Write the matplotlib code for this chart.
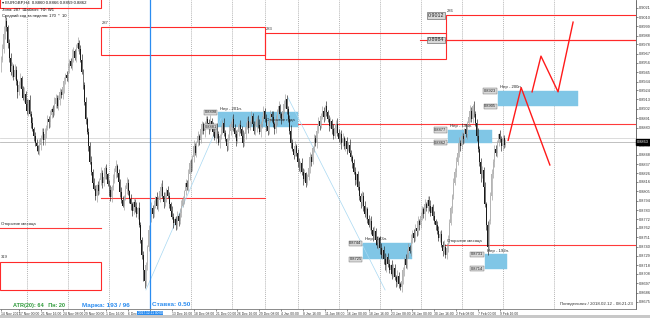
import datetime as dt
import numpy as np
import matplotlib
matplotlib.use("Agg")
import matplotlib.pyplot as plt
from matplotlib.patches import Rectangle
from matplotlib.transforms import blended_transform_factory

plt.rcParams['font.family'] = ['Liberation Sans', 'DejaVu Sans']

# ---------------- data (prices in pips above 0.8600) ----------------
BASE = 0.8600
open_first = 350
close_pips = [
    360, 372, 390, 405, 398, 380, 362, 345,
    352, 340, 348, 335, 322, 330, 338, 325, 315, 320, 308, 300, 312, 296,
    285, 278, 270, 262, 258, 252, 260, 268, 275, 265, 272, 280, 290, 286,
    295, 302, 298, 308, 315, 305, 312, 322, 318, 328, 335,
    342, 338, 350, 358, 352, 364, 370, 362, 374, 380, 372,
    360, 345, 330, 310, 290, 275, 258, 240, 228, 215, 208,
    200, 212, 205, 218, 226, 215, 222, 232, 225, 214, 206, 198, 210, 220, 228, 235,
    226, 216, 204, 195, 188, 198, 208, 215, 205, 196, 190, 182, 192, 186, 178, 185,
    165, 148, 130, 112, 100, 118, 140,
    160, 175, 185, 178, 190, 198, 188, 195, 205, 210, 200, 192, 198, 206, 200, 190,
    182, 175, 168, 172, 165, 176, 170, 180, 188,
    196, 205, 215, 210, 225, 238, 232, 245, 258, 250, 262, 270, 265, 278, 284, 276,
    282, 290, 285, 278, 288, 282,
    275, 268, 280, 272, 262, 270, 278, 285, 274, 266, 258, 268, 276, 284, 290, 280,
    272, 264, 275, 283, 278, 270, 262, 272, 281, 288, 279, 286, 294, 284, 276, 282, 290,
    283, 275, 284, 292, 300, 290, 282, 276, 288, 296, 292, 284, 278, 290, 298, 305,
    296, 290, 300, 308, 314, 302,
    290, 276, 262, 255, 248, 258, 250, 240, 232, 238, 228, 220, 226, 215, 222,
    232, 245, 240, 256, 268, 262, 276, 288, 282, 294, 300, 292, 305, 298,
    290, 282, 288, 278, 270, 280, 284, 274, 266, 272, 262, 268, 258, 264, 255, 260, 250, 245,
    238, 228, 218, 225, 210, 200, 192, 200, 188, 178, 184, 172, 165, 170, 160, 152, 158, 148,
    142, 150, 138, 130, 136, 125, 118, 128, 120, 112, 118, 108, 115, 104, 98, 106, 96, 92, 100,
    112, 125, 118, 132, 140, 135, 148, 156, 150, 162, 158, 170, 165, 176, 184, 178,
    190, 185, 195, 188, 180, 186, 176, 170, 165,
    158, 150, 155, 142, 135, 140, 130, 138,
    150, 168, 185, 200, 215, 228, 240, 250, 262, 258, 270, 266, 278, 272, 285, 292,
    300, 290, 305, 296, 285,
    270, 255, 240, 225, 230, 210, 190, 165, 140,
    170, 200, 225, 240, 255, 250, 262, 272, 266, 258, 268, 260, 263,
]
upper_wick = [
    4, 6, 9, 7, 5, 3, 4, 6, 5, 3, 7, 4, 2, 5, 6, 3,
    4, 8, 3, 5, 2, 6, 4, 7, 3, 5, 4, 2, 6, 3, 5, 4,
    7, 3, 5, 4, 6, 2, 5, 8, 4, 3, 6, 5, 3, 7, 4, 2,
    5, 6, 3, 4, 8, 5, 2, 4, 6, 3, 5, 7, 4, 3, 6, 2,
    4, 5, 7, 3, 6, 4, 2, 5, 3, 8, 4, 6, 3, 5, 2, 4,
    6, 3, 5, 4, 7, 2, 5, 3, 6, 4, 3, 5, 7, 4, 2, 6,
    3, 5, 4, 6, 2, 7, 4, 3, 5, 6, 4, 2, 5, 3, 7, 4,
    5, 2, 6, 4, 3, 5, 8, 4, 6, 3, 5, 4, 2, 6, 4, 3,
    4, 6, 3, 5, 7, 4, 2, 5, 3, 6, 4, 5, 3, 7, 4, 2,
    6, 3, 5, 4, 2, 6, 4, 3, 5, 7, 3, 4, 6, 2, 5, 4,
    3, 5, 4, 6, 3, 2, 5, 7, 4, 3, 6, 4, 5, 3, 2, 6,
    4, 7, 3, 5, 4, 6, 2, 5, 3, 4, 6, 3, 5, 7, 4, 2,
    5, 3, 6, 4, 2, 5, 4, 7, 3, 5, 4, 6, 3, 2, 5, 4,
    6, 4, 3, 5, 7, 4, 2, 6, 3, 5, 4, 3, 6, 4, 5, 2,
    3, 5, 6, 4, 2, 5, 3, 7, 4, 6, 3, 5, 4, 2, 6, 3,
    5, 4, 2, 6, 3, 5, 7, 4, 3, 5, 6, 2, 4, 5, 3, 6,
    4, 3, 5, 6, 2, 4, 7, 3, 5, 4, 6, 3, 2, 5, 4, 6,
    3, 6, 4, 5, 3, 2, 6, 4, 5, 7, 3, 4, 5, 2, 6, 4,
    5, 3, 6, 4, 2, 5, 4, 3, 6, 5, 4, 2, 7, 3, 5, 4,
    4, 6, 3, 5, 4, 2, 6, 3, 5, 4, 7, 3, 4, 6, 2, 5,
    6, 3, 5, 4, 8, 3, 6, 4, 5, 3, 2, 6, 4, 5, 3, 7,
    3, 5, 4, 2, 6, 3, 5, 7, 4, 3, 6, 4, 5, 9, 3, 4,
    5, 4, 6, 3, 5, 2, 4, 6, 3, 5, 4, 3, 2, 5, 4, 3, 3, 4,
]
lower_wick = [
    5, 3, 4, 6, 4, 7, 5, 3, 6, 4, 3, 5, 7, 4, 3, 6,
    3, 5, 6, 4, 7, 3, 5, 2, 6, 4, 5, 3, 4, 6, 2, 5,
    6, 4, 3, 7, 5, 4, 6, 3, 5, 2, 4, 6, 3, 5, 7, 4,
    3, 5, 6, 2, 4, 7, 3, 5, 4, 6, 3, 2, 5, 4, 6, 3,
    5, 3, 4, 6, 2, 5, 7, 4, 3, 5, 6, 4, 2, 5, 3, 6,
    4, 6, 3, 5, 7, 4, 3, 6, 4, 2, 5, 3, 6, 4, 5, 7,
    6, 4, 5, 3, 6, 2, 4, 5, 12, 9, 6, 5, 5, 3, 6, 4,
    3, 5, 4, 6, 2, 5, 3, 7, 4, 6, 3, 5, 4, 2, 6, 3,
    5, 4, 6, 3, 5, 2, 6, 4, 3, 5, 7, 4, 3, 6, 2, 5,
    4, 6, 3, 5, 4, 7, 3, 5, 6, 2, 4, 5, 3, 6, 4, 3,
    6, 3, 5, 4, 2, 6, 4, 3, 5, 7, 4, 3, 6, 2, 5, 4,
    3, 5, 4, 6, 3, 5, 2, 4, 6, 3, 5, 7, 4, 3, 6, 5,
    4, 3, 6, 5, 4, 2, 6, 3, 5, 4, 7, 3, 5, 6, 4, 3,
    5, 6, 3, 4, 6, 3, 5, 2, 4, 6, 3, 5, 4, 7, 3, 5,
    3, 4, 6, 5, 3, 5, 4, 6, 2, 5, 3, 4, 6, 3, 5, 4,
    6, 3, 5, 4, 2, 6, 4, 3, 5, 7, 4, 3, 5, 6, 3, 4,
    4, 5, 3, 6, 4, 3, 5, 7, 4, 6, 3, 5, 4, 2, 6, 5,
    5, 3, 6, 4, 5, 7, 3, 4, 6, 5, 8, 4, 3, 5, 6, 4,
    3, 6, 4, 5, 3, 5, 4, 6, 3, 4, 5, 3, 6, 4, 5, 3,
    5, 4, 6, 3, 5, 4, 7, 3, 5, 6, 4, 3, 5, 4, 6, 3,
    4, 5, 3, 6, 4, 3, 5, 4, 6, 3, 5, 4, 3, 6, 4, 5,
    6, 3, 5, 4, 3, 5, 4, 6, 3, 5, 4, 3, 6, 4, 5, 9,
    4, 5, 3, 6, 10, 4, 3, 5, 4, 6, 3, 5, 4, 3, 5, 4, 4, 3,
]

first_bar_time = dt.datetime(2017, 11, 14, 20, 0)
no_trade_days = [dt.date(2017, 12, 25), dt.date(2018, 1, 1)]

price_ticks = [0.9021, 0.9010, 0.8999, 0.8988, 0.8978, 0.8967, 0.8956, 0.8945,
               0.8934, 0.8924, 0.8913, 0.8902, 0.8891, 0.8880, 0.8859,
               0.8848, 0.8837, 0.8826, 0.8816, 0.8805, 0.8794, 0.8783, 0.8772,
               0.8762, 0.8751, 0.8740, 0.8729, 0.8718, 0.8708, 0.8697, 0.8686, 0.8675]
bid_price = 0.8863
ask_price = 0.8868

# monthly zones: (bar from, bar to, top, bottom, label)
zones = [(-1, 73, 0.9045, 0.9021, ""),
         (-1, 73, 0.8722, 0.8689, "319"),
         (73, 193, 0.8998, 0.8965, "287"),
         (193, 325.5, 0.8991, 0.8961, "283"),
         (325.5, 470, 0.9012, 0.8983, "286")]
# opening levels: (bar from, bar to, price, label)
open_levels = [(-1, 73, 0.8762, "Открытие месяца"),
               (73, 193, 0.8797, ""),
               (193, 470, 0.8884, "Открытие года"),
               (325, 470, 0.8742, "Открытие месяца")]
# weekly range boxes: (bar from, bar to, top, bottom, label)
ranges = [(159, 217, 0.8898, 0.8881, "Нер - 201п."),
          (265, 301, 0.8744, 0.8725, "Нер - 193п."),
          (327, 359, 0.8877, 0.8862, "Нер - 195п."),
          (354, 370, 0.8731, 0.8714, "Нер - 192п."),
          (363.5, 422, 0.8923, 0.8905, "Нер - 200п.")]
forecast_a_bars = [371, 380.5, 401.5]
forecast_a_prices = [0.8865, 0.8927, 0.8836]
forecast_b_bars = [388.5, 395, 407.5, 418.5]
forecast_b_prices = [0.8922, 0.8964, 0.8922, 0.9004]
zigzag_segments = [([106, 161], [0.8689, 0.8891]),
                   ([210, 281], [0.8915, 0.8689])]
vline_bar = 109

# ---------------- derived arrays ----------------
N = len(close_pips)
c = BASE + np.array(close_pips) / 1e4
o = np.r_[BASE + open_first / 1e4, c[:-1]]
h = np.maximum(o, c) + np.array(upper_wick[:N]) / 1e4
l = np.minimum(o, c) - np.array(lower_wick[:N]) / 1e4

times = []
t = first_bar_time
while len(times) < N:
    if t.weekday() < 5 and t.date() not in no_trade_days:
        times.append(t)
    t += dt.timedelta(hours=4)

# ---------------- figure ----------------
W, H = 650, 318
PW, PH = 636, 309
fig = plt.figure(figsize=(W / 100, H / 100), dpi=100)
fig.patch.set_facecolor("white")
ax = fig.add_axes([0, (H - PH) / H, PW / W, PH / H])
ax.set_facecolor("white")
x_per_bar = 1.367
ax.set_xlim(-1 / x_per_bar, (PW - 1) / x_per_bar)
ax.set_ylim(0.9030 - PH * 0.0001176, 0.9030)

# week separators
seps = [i for i in range(1, N) if times[i].weekday() < times[i - 1].weekday()]
for s in seps:
    ax.axvline(s, color="#9a9a9a", lw=0.5, ls=(0, (1.5, 1.5)), zorder=0)
ax.axvline(404.5, color="#9a9a9a", lw=0.5, ls=(0, (1.5, 1.5)), zorder=0)

# bid / ask
ax.axhline(ask_price, color="#d6d6d6", lw=0.6, zorder=1)
ax.axhline(bid_price, color="#b5b5b5", lw=0.6, zorder=1)

# zones
for b0, b1, top, bot, lab in zones:
    ax.add_patch(Rectangle((b0, bot), b1 - b0, top - bot, fill=False,
                           edgecolor="#ff2a2a", lw=0.8, zorder=2))
    if lab:
        ax.text(b0 + 0.8, top + 0.0003, lab, fontsize=3.0, color="#333333",
                va="bottom", ha="left", zorder=5)
ax.plot([306.5, 470], [0.8983, 0.8983], color="#ff2a2a", lw=0.8, zorder=2)
for p, s in [(0.9012, "0.9012"), (0.8983, "0.8984")]:
    ax.text(324, p, s, fontsize=3.8, ha="right", va="center", color="#222222", zorder=6,
            bbox=dict(boxstyle="square,pad=0.15", fc="#d9d9d9", ec="#555555", lw=0.4))

for b0, b1, p, lab in open_levels:
    ax.plot([b0, b1], [p, p], color="#ff3a3a", lw=0.8, zorder=2)
    if lab:
        ax.text(b0 + 1, p + 0.0002, lab, fontsize=3.1, color="#222222",
                va="bottom", ha="left", zorder=5)

# weekly range boxes
for b0, b1, top, bot, lab in ranges:
    ax.add_patch(Rectangle((b0, bot), b1 - b0, top - bot, facecolor="#80c6e6",
                           edgecolor="#80c6e6", lw=0.3, zorder=2))
    ax.text(b0 + 1.5, top + 0.0002, lab, fontsize=3.1, color="#222222",
            va="bottom", ha="left", zorder=5)
    for p in (top, bot):
        ax.text(b0 - 1.2, p, f"{p:.4f}", fontsize=2.9, ha="right", va="center",
                color="#222222", zorder=6,
                bbox=dict(boxstyle="square,pad=0.15", fc="#d9d9d9", ec="#666666", lw=0.3))

# zigzag indicator
for zb, zp in zigzag_segments:
    ax.plot(zb, zp, color="#a8d8f2", lw=0.5, zorder=3)

# candles
x = np.arange(N)
bull = c >= o
wick_col = np.where(bull, "#9a9a9a", "#222222")
body_col = np.where(bull, "#b4b4b4", "#1a1a1a")
ax.vlines(x, l, h, colors=wick_col, lw=0.45, zorder=4)
body_h = np.maximum(np.abs(c - o), 0.00006)
ax.bar(x, body_h, bottom=np.minimum(o, c), width=0.7, color=body_col, lw=0, zorder=4)

# forecast
ax.plot(forecast_a_bars, forecast_a_prices, color="#ff1a1a", lw=1.0, zorder=5)
ax.plot(forecast_b_bars, forecast_b_prices, color="#ff1a1a", lw=1.0, zorder=5)

# vertical blue line
ax.axvline(vline_bar, color="#2a8cf0", lw=0.9, zorder=5)

# axes styling
for sp in ["top", "left"]:
    ax.spines[sp].set_visible(False)
ax.spines["right"].set_color("#555555")
ax.spines["bottom"].set_color("#777777")
ax.spines["right"].set_linewidth(0.6)
ax.spines["bottom"].set_linewidth(0.6)
ax.yaxis.tick_right()
ax.set_yticks(price_ticks)
ax.set_yticklabels([f"{p:.4f}" for p in price_ticks])
ax.tick_params(axis="y", length=1.5, width=0.4, pad=0.5, labelsize=2.8, colors="#333333")

label_idx = [0] + list(range(13, N, 16))
lbls = []
for i in label_idx:
    tt = times[i]
    if i == 0:
        lbls.append(f"{tt.day} {tt:%b %Y}")
    elif i == vline_bar:
        lbls.append("")
    else:
        lbls.append(f"{tt.day} {tt:%b %H:%M}")
ax.set_xticks(label_idx)
ax.set_xticklabels(lbls, ha="left")
ax.tick_params(axis="x", length=1.5, width=0.4, pad=0.5, labelsize=2.4, colors="#333333")

tb = blended_transform_factory(ax.transData, ax.transAxes)
vt = times[vline_bar]
ax.text(vline_bar, -0.008, f"{vt:%Y.%m.%d %H:%M}", transform=tb, fontsize=2.3,
        color="white", ha="center", va="top", zorder=10, clip_on=False,
        bbox=dict(boxstyle="square,pad=0.25", fc="#2a8cf0", ec="none"))

# current price box
tr = blended_transform_factory(ax.transAxes, ax.transData)
ax.text(1.002, bid_price, f"{bid_price:.4f}", transform=tr, fontsize=2.8, color="white",
        ha="left", va="center", zorder=10, clip_on=False,
        bbox=dict(boxstyle="square,pad=0.2", fc="black", ec="black"))

# info texts
def axpos(px, py):
    return px / PW, 1 - py / PH

ax.text(*axpos(2, 3), "▾ EURGBP,H4  0.8860 0.8866 0.8859 0.8862", transform=ax.transAxes,
        fontsize=3.1, color="#111111", va="center", ha="left", zorder=10)
ax.text(*axpos(2, 10), "Зона: 287  Шаблон: ТФ: W1", transform=ax.transAxes,
        fontsize=3.0, color="#111111", va="center", ha="left", zorder=10)
ax.text(*axpos(2, 16), "Средний ход за неделю: 170  *  10", transform=ax.transAxes,
        fontsize=3.0, color="#111111", va="center", ha="left", zorder=10)

ax.text(*axpos(13, 305), "ATR(20): 64   Пн: 20", transform=ax.transAxes,
        fontsize=4.0, color="#2e9a3a", fontweight="bold", va="center", ha="left", zorder=10)
ax.text(*axpos(82, 305), "Маржа: 193 / 96", transform=ax.transAxes,
        fontsize=4.6, color="#2a8cf0", fontweight="bold", va="center", ha="left", zorder=10)
ax.text(*axpos(152, 305), "Ставка: 0.50", transform=ax.transAxes,
        fontsize=4.6, color="#2a8cf0", fontweight="bold", va="center", ha="left", zorder=10)
ax.text(*axpos(633, 304), "Понедельник / 2018.02.12 - 08:21:23", transform=ax.transAxes,
        fontsize=3.2, color="#333333", va="center", ha="right", zorder=10)

# bottom window strip
fig.patches.append(Rectangle((0, 0), 1, 3 / H, transform=fig.transFigure,
                             facecolor="#c8c8c8", edgecolor="none"))

fig.savefig("out.png", dpi=100)
